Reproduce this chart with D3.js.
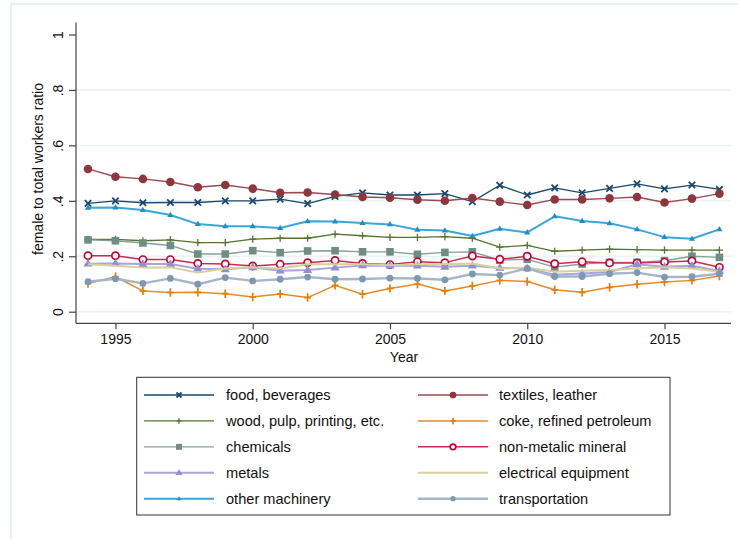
<!DOCTYPE html>
<html>
<head>
<meta charset="utf-8">
<script src="https://cdn.jsdelivr.net/npm/d3@7/dist/d3.min.js"></script>
<style>
  html, body { margin: 0; padding: 0; background: #fff; }
  svg { display: block; font-family: "Liberation Sans", Arial, sans-serif; }
</style>
</head>
<body>
<script>
// Female share of workers by manufacturing sector, 1994-2017
const years = d3.range(1994, 2018);

const food = [0.391,0.400,0.393,0.394,0.394,0.400,0.400,0.406,0.390,0.416,0.429,0.421,0.421,0.426,0.397,0.456,0.421,0.447,0.429,0.445,0.461,0.443,0.457,0.441];
const textiles = [0.515,0.487,0.479,0.468,0.449,0.457,0.444,0.429,0.430,0.423,0.414,0.411,0.404,0.400,0.410,0.397,0.385,0.405,0.405,0.409,0.414,0.394,0.408,0.426];
const wood = [0.261,0.261,0.256,0.259,0.249,0.249,0.262,0.265,0.265,0.280,0.274,0.268,0.268,0.271,0.265,0.233,0.239,0.218,0.222,0.226,0.224,0.222,0.222,0.222];
const coke = [0.102,0.126,0.075,0.069,0.070,0.065,0.053,0.064,0.051,0.095,0.063,0.084,0.100,0.075,0.093,0.113,0.109,0.079,0.070,0.088,0.099,0.107,0.113,0.129];
const chemicals = [0.259,0.256,0.248,0.239,0.208,0.208,0.220,0.213,0.219,0.220,0.216,0.216,0.207,0.214,0.216,0.186,0.189,0.161,0.172,0.178,0.178,0.184,0.200,0.196];
const nonMetallic = [0.202,0.202,0.188,0.188,0.174,0.172,0.165,0.171,0.177,0.185,0.174,0.170,0.180,0.177,0.201,0.189,0.200,0.173,0.180,0.176,0.176,0.179,0.183,0.160];
const metals = [0.173,0.174,0.172,0.172,0.155,0.153,0.160,0.148,0.150,0.159,0.167,0.166,0.166,0.162,0.166,0.158,0.156,0.133,0.138,0.143,0.171,0.162,0.166,0.147];
const electrical = [0.171,0.166,0.159,0.160,0.141,0.156,0.160,0.156,0.171,0.171,0.171,0.168,0.171,0.171,0.174,0.156,0.159,0.144,0.148,0.150,0.156,0.160,0.156,0.144];
const otherMachinery = [0.375,0.376,0.367,0.349,0.316,0.308,0.308,0.302,0.326,0.325,0.320,0.315,0.296,0.293,0.273,0.299,0.286,0.344,0.327,0.319,0.297,0.269,0.263,0.297];
const transportation = [0.108,0.119,0.102,0.120,0.099,0.123,0.111,0.117,0.125,0.117,0.118,0.121,0.120,0.115,0.136,0.132,0.156,0.127,0.127,0.137,0.141,0.125,0.126,0.137];

const yTicks = [0, 0.2, 0.4, 0.6, 0.8, 1];
const yTickLabels = ["0", ".2", ".4", ".6", ".8", "1"];
const xTicks = [1995, 2000, 2005, 2010, 2015];

const series = [
  { name: "food, beverages", values: food, line: "#1a476f", mark: "#1a476f", w: 1.3, sym: "x" },
  { name: "textiles, leather", values: textiles, line: "#9a4a50", mark: "#90353b", w: 1.4, sym: "circle" },
  { name: "wood, pulp, printing, etc.", values: wood, line: "#55752f", mark: "#55752f", w: 1.3, sym: "plus" },
  { name: "coke, refined petroleum", values: coke, line: "#e8892a", mark: "#e37e00", w: 1.5, sym: "plusTall" },
  { name: "chemicals", values: chemicals, line: "#86a098", mark: "#6e8e84", w: 1.4, sym: "square" },
  { name: "non-metalic mineral", values: nonMetallic, line: "#cc2a52", mark: "#c10534", w: 1.5, sym: "hollow" },
  { name: "metals", values: metals, line: "#a9a4dc", mark: "#938dd2", w: 2.0, sym: "triangle" },
  { name: "electrical equipment", values: electrical, line: "#d6d09a", mark: "#cac27e", w: 2.0, sym: "none" },
  { name: "other machinery", values: otherMachinery, line: "#3aa6da", mark: "#1f8fc6", w: 2.0, sym: "smallTriangle" },
  { name: "transportation", values: transportation, line: "#a4b6c8", mark: "#7f98b2", w: 2.4, sym: "smallCircle" }
];

const W = 738, H = 539;
const svg = d3.select("body").append("svg").attr("width", W).attr("height", H);

// outer graph region frame
svg.append("rect").attr("x", 11).attr("y", 4).attr("width", 760).attr("height", 560)
  .attr("fill", "#fff").attr("stroke", "#e2ebee").attr("stroke-width", 1.5);

const plot = { left: 76, right: 731, top: 22.5, bottom: 323.3 };
const x = d3.scaleLinear().domain([1994, 2017]).range([88, 719.4]);
const y = d3.scaleLinear().domain([0, 1]).range([311.7, 34.5]);

// gridlines (none at the top value)
svg.append("g").selectAll("line").data(yTicks.filter(t => t < 1)).join("line")
  .attr("x1", plot.left).attr("x2", plot.right)
  .attr("y1", d => y(d)).attr("y2", d => y(d))
  .attr("stroke", "#eaf2f3").attr("stroke-width", 1.5);

// y axis
const yAxis = d3.axisLeft(y).tickValues(yTicks).tickSize(7).tickPadding(0)
  .tickFormat((d, i) => yTickLabels[i]);
const gy = svg.append("g").attr("transform", `translate(${plot.left},0)`).call(yAxis);
gy.select(".domain").attr("d", `M0,${plot.top}V${plot.bottom}`).attr("stroke", "#444").attr("stroke-width", 1.2);
gy.selectAll(".tick line").attr("stroke", "#444").attr("stroke-width", 1.2);
gy.selectAll(".tick text")
  .attr("x", null).attr("dy", null)
  .attr("transform", "translate(-13,0) rotate(-90)")
  .attr("text-anchor", "middle").attr("font-size", 14).attr("fill", "#111")
  .attr("font-family", "Liberation Sans, Arial, sans-serif");

// x axis
const xAxis = d3.axisBottom(x).tickValues(xTicks).tickSize(6).tickPadding(5).tickFormat(d3.format("d"));
const gx = svg.append("g").attr("transform", `translate(0,${plot.bottom})`).call(xAxis);
gx.select(".domain").attr("d", `M${plot.left},0H${plot.right}`).attr("stroke", "#444").attr("stroke-width", 1.2);
gx.selectAll(".tick line").attr("stroke", "#444").attr("stroke-width", 1.2);
gx.selectAll(".tick text").attr("font-size", 14).attr("fill", "#111")
  .attr("font-family", "Liberation Sans, Arial, sans-serif");

// axis titles
svg.append("text").attr("x", 404).attr("y", 362).attr("text-anchor", "middle")
  .attr("font-size", 14).attr("fill", "#111").text("Year");
svg.append("text").attr("transform", "translate(43,169) rotate(-90)").attr("text-anchor", "middle")
  .attr("font-size", 14).attr("fill", "#111").text("female to total workers ratio");

// marker drawing
function drawMarker(g, sym, color, s) {
  switch (sym) {
    case "x": {
      const h = 3.2 * s;
      g.append("path").attr("d", `M${-h},${-h}L${h},${h}M${-h},${h}L${h},${-h}`)
        .attr("stroke", color).attr("stroke-width", 1.8).attr("fill", "none");
      break;
    }
    case "circle":
      g.append("circle").attr("r", 4.3 * s).attr("fill", color);
      break;
    case "plus": {
      const h = 3.6 * s;
      g.append("path").attr("d", `M${-h},0H${h}M0,${-h}V${h}`)
        .attr("stroke", color).attr("stroke-width", 1.3).attr("fill", "none");
      break;
    }
    case "plusTall": {
      const h = 3.3 * s, v = 4.2 * s;
      g.append("path").attr("d", `M${-h},0H${h}M0,${-v}V${v}`)
        .attr("stroke", color).attr("stroke-width", 1.7).attr("fill", "none");
      break;
    }
    case "square": {
      const a = 7.6 * s;
      g.append("rect").attr("x", -a / 2).attr("y", -a / 2).attr("width", a).attr("height", a).attr("fill", color);
      break;
    }
    case "hollow":
      g.append("circle").attr("r", 3.6 * s).attr("fill", "#fff").attr("stroke", color).attr("stroke-width", 1.7);
      break;
    case "triangle": {
      const r = 4.8 * s;
      g.append("path").attr("d", `M0,${-r}L${r * 0.95},${r * 0.6}L${-r * 0.95},${r * 0.6}Z`).attr("fill", color);
      break;
    }
    case "smallTriangle": {
      const r = 3.3 * s;
      g.append("path").attr("d", `M0,${-r}L${r * 0.95},${r * 0.6}L${-r * 0.95},${r * 0.6}Z`).attr("fill", color);
      break;
    }
    case "smallCircle":
      g.append("circle").attr("r", 3.4 * s).attr("fill", color);
      break;
    default:
      break;
  }
}

// series lines and markers
const line = d3.line().x((d, i) => x(years[i])).y(d => y(d));
series.forEach(s => {
  const g = svg.append("g");
  g.append("path").attr("d", line(s.values)).attr("fill", "none")
    .attr("stroke", s.line).attr("stroke-width", s.w).attr("stroke-linejoin", "round");
  s.values.forEach((v, i) => {
    const m = g.append("g").attr("transform", `translate(${x(years[i])},${y(v)})`);
    drawMarker(m, s.sym, s.mark, 1);
  });
});

// legend
const leg = svg.append("g");
leg.append("rect").attr("x", 136.7).attr("y", 377.3).attr("width", 533.3).attr("height", 137.7)
  .attr("fill", "#fff").attr("stroke", "#333").attr("stroke-width", 1);
const rowY = d3.scaleLinear().domain([0, 4]).range([395, 498.7]);
const cols = [{ x1: 144, x2: 214, mx: 179, tx: 226 }, { x1: 418, x2: 488, mx: 453, tx: 499 }];
series.forEach((s, i) => {
  const c = cols[i % 2], ry = rowY(Math.floor(i / 2));
  const g = leg.append("g");
  g.append("line").attr("x1", c.x1).attr("x2", c.x2).attr("y1", ry).attr("y2", ry)
    .attr("stroke", s.line).attr("stroke-width", s.w);
  const m = g.append("g").attr("transform", `translate(${c.mx},${ry})`);
  drawMarker(m, s.sym, s.mark, 0.78);
  g.append("text").attr("x", c.tx).attr("y", ry + 5).attr("font-size", 14.6).attr("fill", "#111").text(s.name);
});
</script>
</body>
</html>
